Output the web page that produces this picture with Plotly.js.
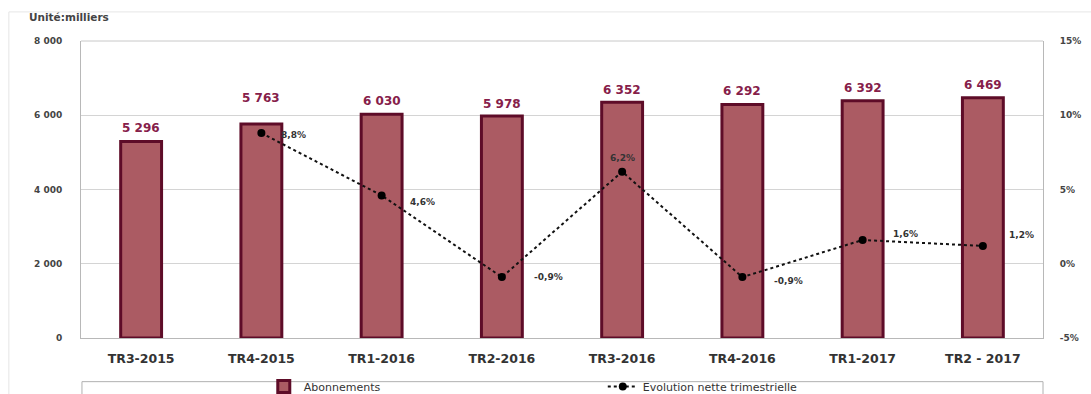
<!DOCTYPE html>
<html><head><meta charset="utf-8">
<script src="https://cdn.plot.ly/plotly-3.0.1.min.js"></script>
<style>html,body{margin:0;padding:0;background:#fff}#c{width:1091px;height:394px}</style>
</head><body><div id="c"></div>
<script>
const categories = ["TR3-2015","TR4-2015","TR1-2016","TR2-2016","TR3-2016","TR4-2016","TR1-2017","TR2 - 2017"];
const abonnements = [5296, 5763, 6030, 5978, 6352, 6292, 6392, 6469];
const evolution = [null, 8.8, 4.6, -0.9, 6.2, -0.9, 1.6, 1.2];
const leftTicks = [0, 2000, 4000, 6000, 8000];
const rightTicks = [-5, 0, 5, 10, 15];

// label offsets in pixels (style only)
const barLabelShift = [10, 23, 10, 9, 9, 10, 10, 10];
const pctLabelDx = [0, 32, 41, 47, 0, 46, 43, 39];
const pctLabelDy = [0, -2, -7, 0, 14, -4, 6, 11];

const fmtInt = v => String(v).replace(/\B(?=(\d{3})+(?!\d))/g, " ");
const fmtPct = v => v.toFixed(1).replace(".", ",") + "%";

const F = "DejaVu Sans, Verdana, sans-serif";

const traces = [
  {
    type: "bar", name: "Abonnements", x: categories, y: abonnements,
    width: 0.34,
    marker: {color: "#ab5b63", line: {color: "#5e0c28", width: 3}},
    hoverinfo: "none"
  },
  {
    type: "scatter", mode: "lines+markers", name: "Evolution nette trimestrielle",
    x: categories, y: evolution, yaxis: "y2",
    line: {color: "#111", width: 2, dash: "dot"},
    marker: {color: "#000", size: 8},
    cliponaxis: false, connectgaps: false
  }
];

const annotations = [
  {text: "Unité:milliers", xref: "paper", yref: "paper", x: -0.056, y: 1.08,
   xanchor: "left", yanchor: "middle", showarrow: false,
   font: {family: F, size: 10.5, color: "#444", weight: "bold"}}
];
categories.forEach((c, i) => {
  annotations.push({
    x: c, y: abonnements[i], xref: "x", yref: "y", text: fmtInt(abonnements[i]),
    showarrow: false, yanchor: "bottom", yshift: barLabelShift[i] - 6,
    font: {family: F, size: 12, color: "#86204a", weight: "bold"}
  });
  if (evolution[i] !== null) {
    annotations.push({
      x: c, y: evolution[i], xref: "x", yref: "y2", text: fmtPct(evolution[i]),
      showarrow: false, xanchor: "center", yanchor: "middle",
      xshift: pctLabelDx[i], yshift: pctLabelDy[i],
      font: {family: F, size: 9, color: "#333", weight: "bold"}
    });
  }
});

const layout = {
  width: 1091, height: 394,
  margin: {l: 81, r: 48, t: 41, b: 56, autoexpand: false},
  paper_bgcolor: "#fff", plot_bgcolor: "#fff",
  showlegend: true,
  legend: {orientation: "h", x: 0.19, y: -0.163, xanchor: "left", yanchor: "middle",
           entrywidth: 294, entrywidthmode: "pixels",
           font: {family: F, size: 11, color: "#333"}, bgcolor: "rgba(0,0,0,0)"},
  xaxis: {type: "category", showgrid: false, zeroline: false,
          showline: true, linecolor: "#b8b8b8", linewidth: 1,
          ticks: "", ticklabelstandoff: 9,
          tickfont: {family: F, size: 12.5, color: "#333", weight: "bold"},
          range: [-0.5, 7.5]},
  yaxis: {range: [0, 8000], tickvals: leftTicks, ticktext: leftTicks.map(fmtInt),
          showgrid: true, gridcolor: "#d4d4d4", gridwidth: 1, zeroline: false,
          showline: true, linecolor: "#b8b8b8", ticks: "", ticklabelstandoff: 16,
          tickfont: {family: F, size: 9, color: "#444", weight: "bold"}},
  yaxis2: {overlaying: "y", side: "right", range: [-5, 15], tickvals: rightTicks,
           ticktext: rightTicks.map(v => v + "%"), showgrid: false, zeroline: false,
           showline: true, linecolor: "#b8b8b8", ticks: "", ticklabelstandoff: 14,
           tickfont: {family: F, size: 9, color: "#444", weight: "bold"}},
  annotations: annotations,
  shapes: [
    {type: "line", xref: "paper", yref: "paper", x0: 0, x1: 1, y0: 1, y1: 1,
     line: {color: "#c8c8c8", width: 1}},
    {type: "rect", xref: "paper", yref: "paper", x0: 0.001, x1: 1.0, y0: -0.147, y1: -0.24,
     line: {color: "#b0b0b0", width: 1}, fillcolor: "rgba(0,0,0,0)"},
    {type: "line", xref: "paper", yref: "paper", x0: -0.075, x1: 1.06, y0: 1.098, y1: 1.098,
     line: {color: "#e6e6e6", width: 1}},
    {type: "line", xref: "paper", yref: "paper", x0: -0.075, x1: -0.075, y0: 1.098, y1: -0.2,
     line: {color: "#e6e6e6", width: 1}}
  ]
};

Plotly.newPlot("c", traces, layout, {displayModeBar: false, staticPlot: true});
</script>
</body></html>
